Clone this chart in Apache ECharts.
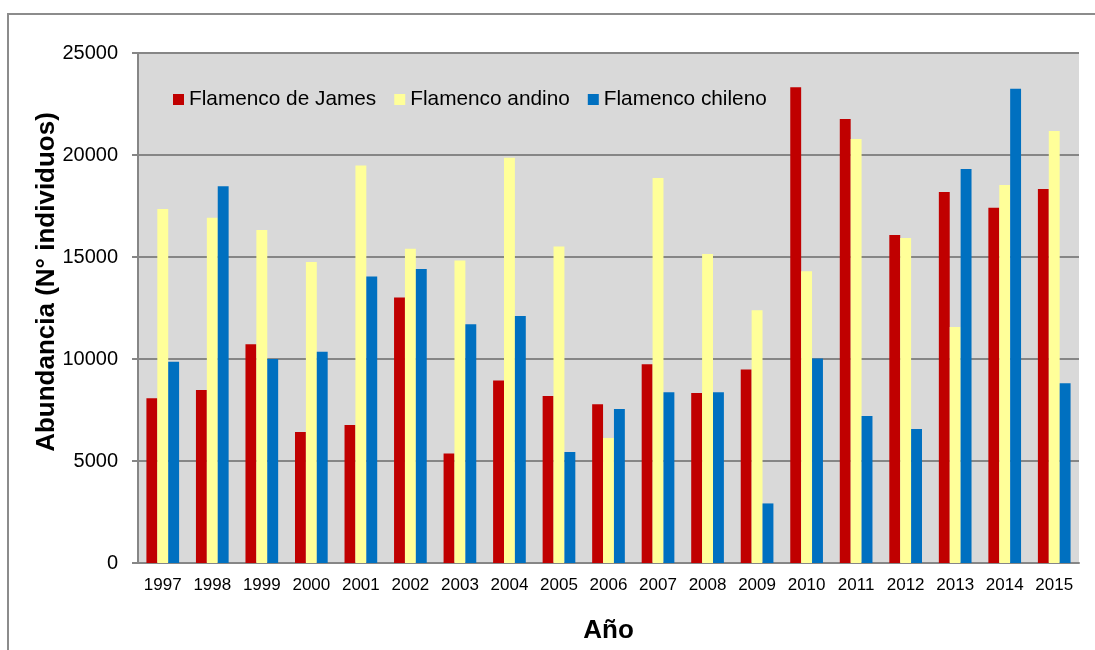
<!DOCTYPE html>
<html>
<head>
<meta charset="utf-8">
<script src="https://cdn.jsdelivr.net/npm/echarts@6/dist/echarts.min.js"></script>
<style>html,body{margin:0;padding:0;background:#fff;}#c{width:1095px;height:650px;}</style>
</head>
<body>
<div id="c"></div>
<script>
const years = ['1997','1998','1999','2000','2001','2002','2003','2004','2005','2006','2007','2008','2009','2010','2011','2012','2013','2014','2015'];
const james  = [8070, 8480, 10720, 6420, 6760, 13010, 5370, 8940, 8190, 7780, 9740, 8330, 9490, 23320, 21760, 16080, 18190, 17420, 18330];
const andino = [17350, 16930, 16320, 14750, 19490, 15410, 14830, 19870, 15520, 6130, 18870, 15150, 12390, 14300, 20780, 15930, 11570, 18530, 21180];
const chileno = [9870, 18470, 10000, 10360, 14040, 14410, 11700, 12110, 5440, 7550, 8370, 8370, 2920, 10030, 7200, 6570, 19310, 23250, 8810];
const yTicks = [0, 5000, 10000, 15000, 20000, 25000];

const font = 'Liberation Sans, Arial, sans-serif';
const chart = echarts.init(document.getElementById('c'), null, {renderer: 'canvas'});
const mk = (name, data, color) => ({
  name, type: 'bar', data, barGap: '0%', barCategoryGap: '34%',
  itemStyle: {color}
});
chart.setOption({
  animation: false,
  backgroundColor: '#fff',
  graphic: [{
    type: 'rect', shape: {x: 8, y: 14, width: 1100, height: 660},
    style: {fill: 'none', stroke: '#8c8c8c', lineWidth: 2}, z: -10
  }],
  grid: {left: 138, right: 16, top: 53, bottom: 87, backgroundColor: '#D9D9D9', show: true, borderWidth: 0,
    containLabel: false, outerBoundsMode: 'none'},
  legend: {
    left: 168, top: 84, itemWidth: 11, itemHeight: 11, itemGap: 18, icon: 'rect',
    textStyle: {fontFamily: font, fontSize: 20.8, color: '#000'},
    data: ['Flamenco de James', 'Flamenco andino', 'Flamenco chileno']
  },
  xAxis: {
    type: 'category', data: years,
    name: 'Año', nameLocation: 'middle', nameGap: 55, nameMoveOverlap: false,
    nameTextStyle: {fontFamily: font, fontSize: 26, fontWeight: 'bold', color: '#000'},
    axisLine: {lineStyle: {color: '#868686', width: 2}},
    axisTick: {show: false},
    axisLabel: {fontFamily: font, fontSize: 17, color: '#000', margin: 14, interval: 0}
  },
  yAxis: {
    type: 'value', min: 0, max: 25000, interval: 5000,
    name: 'Abundancia (N° individuos)', nameLocation: 'middle', nameGap: 78, nameMoveOverlap: false,
    nameTextStyle: {fontFamily: font, fontSize: 26, fontWeight: 'bold', color: '#000', padding: [0, 0, 0, 52]},
    axisLine: {show: true, lineStyle: {color: '#868686', width: 2}},
    axisTick: {show: true, length: 6, lineStyle: {color: '#868686', width: 2}},
    splitLine: {lineStyle: {color: '#868686', width: 2}},
    axisLabel: {fontFamily: font, fontSize: 20, color: '#000', margin: 20,
      formatter: v => yTicks.includes(v) ? String(v) : ''}
  },
  series: [
    mk('Flamenco de James', james, '#C00000'),
    mk('Flamenco andino', andino, '#FFFF99'),
    mk('Flamenco chileno', chileno, '#0070C0')
  ]
});
</script>
</body>
</html>
